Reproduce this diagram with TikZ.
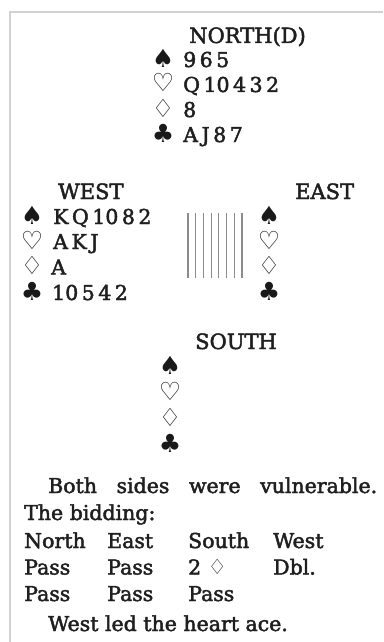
\documentclass[tikz,border=0pt]{standalone}
\usepackage{fontspec}
\setmainfont{DejaVu Serif}[RawFeature={embolden=2.2}]
\newfontfamily\suitfont{DejaVu Sans}
\newcommand\gp{\hspace{3.5pt}}
\tikzset{
  txt/.style={anchor=base west, inner sep=0pt, text=black!88, font=\fontsize{20.5}{24}\selectfont},
  hd/.style={anchor=base west, inner sep=0pt, text=black!88, font=\fontsize{21}{24}\selectfont},
  suit/.style={anchor=base, inner sep=0pt, text=black!90, font=\suitfont\fontsize{25}{27}\selectfont},
  frame/.style={draw=black!18, line width=2pt},
  tick/.style={draw=black!45, line width=1.2pt}
}
\begin{document}
\begin{tikzpicture}[x=1pt,y=-1pt]
\fill[white] (0,0) rectangle (383,642);
\useasboundingbox (0,0) rectangle (383,642);
% frame
\coordinate (f1) at (10,642);
\coordinate (f2) at (10,12);
\coordinate (f3) at (383,12);
\draw[frame] (f1) -- (f2) -- (f3);
% North
\node[hd] (north) at (189,43) {NORTH(D)};
\node[suit] (ns) at (163,67) {♠};
\node[suit] (nh) at (163,92) {♡};
\node[suit] (nd) at (163,117) {♢};
\node[suit] (nc) at (163,142) {♣};
\node[txt] (nst) at (183,67) {9\gp6\gp5};
\node[txt] (nht) at (183,92) {Q\gp10\gp4\gp3\gp2};
\node[txt] (ndt) at (183,117) {8};
\node[txt] (nct) at (183,142) {A\gp J\gp8\gp7};
% West
\node[hd] (west) at (58,199) {WEST};
\node[suit] (ws) at (32,224) {♠};
\node[suit] (wh) at (32,249) {♡};
\node[suit] (wd) at (32,274.5) {♢};
\node[suit] (wc) at (32,300) {♣};
\node[txt] (wst) at (53,224) {K\gp Q\gp10\gp8\gp2};
\node[txt] (wht) at (53,249) {A\gp K\gp J};
\node[txt] (wdt) at (51,274.5) {A};
\node[txt] (wct) at (52,300) {10\gp5\gp4\gp2};
% East
\node[hd] (east) at (295,199) {EAST};
\node[suit] (es) at (269,224) {♠};
\node[suit] (eh) at (269,249) {♡};
\node[suit] (ed) at (269,274.5) {♢};
\node[suit] (ec) at (269,300) {♣};
% table lines
\foreach \i in {0,...,7} {
  \coordinate (lt\i) at ({188+\i*7.7},213);
  \coordinate (lb\i) at ({188+\i*7.7},278);
  \draw[tick] (lt\i) -- (lb\i);
}
% South
\node[hd] (south) at (195,349) {SOUTH};
\node[suit] (ss) at (170,374) {♠};
\node[suit] (sh) at (170,400) {♡};
\node[suit] (sd) at (170,426) {♢};
\node[suit] (sc) at (170,452) {♣};
% Text
\node[txt] (t1) at (48,493) {\makebox[329pt][s]{Both sides were vulnerable.}};
\node[txt] (t2) at (24,520) {The bidding:};
\node[txt] (b11) at (24,548) {North};
\node[txt] (b12) at (107,548) {East};
\node[txt] (b13) at (188,548) {South};
\node[txt] (b14) at (273,548) {West};
\node[txt] (b21) at (24,574.5) {Pass};
\node[txt] (b22) at (107,574.5) {Pass};
\node[txt] (b23) at (188,574.5) {2 {\suitfont\fontsize{21}{24}\selectfont ♢}};
\node[txt] (b24) at (273,574.5) {Dbl.};
\node[txt] (b31) at (24,601) {Pass};
\node[txt] (b32) at (107,601) {Pass};
\node[txt] (b33) at (188,601) {Pass};
\node[txt] (t3) at (48,631) {West led the heart ace.};
\end{tikzpicture}
\end{document}
